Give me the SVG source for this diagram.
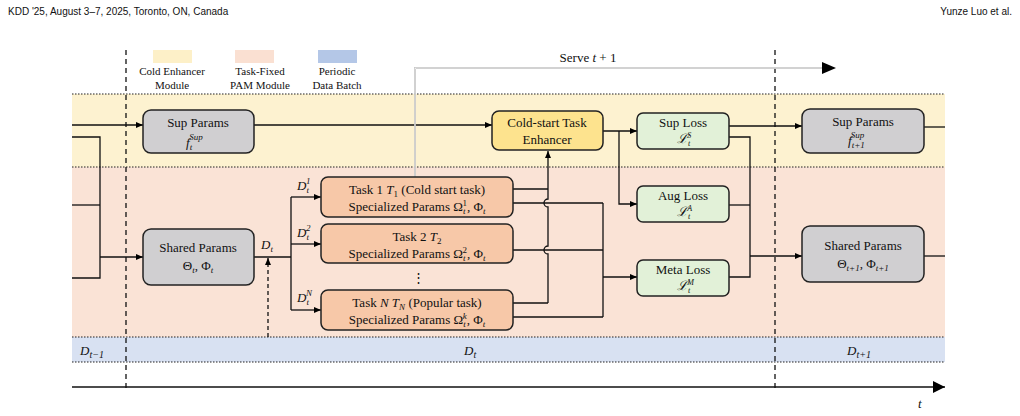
<svg xmlns="http://www.w3.org/2000/svg" width="1020" height="416" viewBox="0 0 1020 416">
<defs>
<marker id="ar" markerWidth="8" markerHeight="8" refX="7" refY="4" orient="auto" markerUnits="userSpaceOnUse"><path d="M0,1 L7,4 L0,7 z" fill="#000"/></marker>
<marker id="big" markerWidth="14" markerHeight="14" refX="12" refY="7" orient="auto" markerUnits="userSpaceOnUse"><path d="M0,1 L12,7 L0,13 z" fill="#000"/></marker>
</defs>
<style>
text{font-family:"Liberation Serif",serif;font-size:13px;fill:#111}
.m{font-style:italic}
.h{font-family:"Liberation Sans",sans-serif;font-size:10px}
.lg{font-size:11px}
.box{stroke:#222;stroke-width:1.5}
.gray{fill:#d0cfd1}.task{fill:#f7c8a8}.cold{fill:#fde38e}.loss{fill:#e2f1d8}
.ln{fill:none;stroke:#111;stroke-width:1.3}
.dot{stroke:#222;stroke-width:1.2;stroke-dasharray:1.5 1.5}
.dash{stroke:#111;stroke-width:1.3;stroke-dasharray:5 4}
</style>
<text class="h" x="8" y="15">KDD '25, August 3–7, 2025, Toronto, ON, Canada</text>
<text class="h" x="1012" y="15" text-anchor="end">Yunze Luo et al.</text>
<g id="bands">
<rect x="72" y="94" width="873" height="73" fill="#fdf2d0"/>
<rect x="72" y="167" width="873" height="170" fill="#fae3d6"/>
<rect x="72" y="337" width="873" height="25" fill="#d8e1f2"/>
<line class="dot" x1="72" y1="94" x2="945" y2="94"/>
<line class="dot" x1="72" y1="167" x2="945" y2="167"/>
<line class="dot" x1="72" y1="337" x2="945" y2="337"/>
<line class="dot" x1="72" y1="362" x2="945" y2="362"/>
<line class="dash" x1="126" y1="50" x2="126" y2="392"/>
<line class="dash" x1="775" y1="50" x2="775" y2="392"/>
</g>
<g id="legend">
<rect x="153" y="50" width="39" height="13" fill="#fdf0c8"/>
<rect x="235" y="50" width="39" height="13" fill="#fae0d2"/>
<rect x="318" y="50" width="39" height="13" fill="#b4c7e7"/>
<text class="lg" x="172" y="75" text-anchor="middle">Cold Enhancer</text>
<text class="lg" x="172" y="89" text-anchor="middle">Module</text>
<text class="lg" x="260" y="75" text-anchor="middle">Task-Fixed</text>
<text class="lg" x="260" y="89" text-anchor="middle">PAM Module</text>
<text class="lg" x="337" y="75" text-anchor="middle">Periodic</text>
<text class="lg" x="337" y="89" text-anchor="middle">Data Batch</text>
</g>
<g id="connectors">
<line class="ln" x1="72" y1="125" x2="143" y2="125" marker-end="url(#ar)"/>
<polyline class="ln" points="72,137 100,137 100,278 72,278"/>
<line class="ln" x1="72" y1="205" x2="100" y2="205"/>
<line class="ln" x1="100" y1="257" x2="143" y2="257" marker-end="url(#ar)"/>
<line class="ln" x1="254" y1="125" x2="492" y2="125" marker-end="url(#ar)"/>
<line class="ln" x1="254" y1="257" x2="291" y2="257"/>
<line class="ln" x1="268" y1="337" x2="268" y2="258" stroke-dasharray="4 3" marker-end="url(#ar)"/>
<line class="ln" x1="291" y1="197" x2="291" y2="310"/>
<line class="ln" x1="291" y1="197" x2="321" y2="197" marker-end="url(#ar)"/>
<line class="ln" x1="291" y1="244" x2="321" y2="244" marker-end="url(#ar)"/>
<line class="ln" x1="291" y1="310" x2="321" y2="310" marker-end="url(#ar)"/>
<polyline class="ln" points="415,177 415,68 825,68" stroke-width="4"/>
<polyline points="415,177 415,68 825,68" fill="none" stroke="#fff" stroke-width="1.4"/>
<path d="M822,62 L836,68 L822,74 z" fill="#000"/>
<line class="ln" x1="513" y1="189" x2="548" y2="189"/>
<line class="ln" x1="513" y1="303" x2="548" y2="303"/>
<path class="ln" d="M548,303 L548,254 A4,4 0 0 1 548,246 L548,207 A4,4 0 0 1 548,199 L548,151" marker-end="url(#ar)"/>
<line class="ln" x1="513" y1="203" x2="603" y2="203"/>
<line class="ln" x1="513" y1="250" x2="603" y2="250"/>
<line class="ln" x1="513" y1="317" x2="603" y2="317"/>
<line class="ln" x1="603" y1="203" x2="603" y2="317"/>
<line class="ln" x1="603" y1="277" x2="637" y2="277" marker-end="url(#ar)"/>
<line class="ln" x1="603" y1="131" x2="637" y2="131" marker-end="url(#ar)"/>
<polyline class="ln" points="619,131 619,204 637,204" marker-end="url(#ar)"/>
<line class="ln" x1="729" y1="126" x2="802" y2="126" marker-end="url(#ar)"/>
<polyline class="ln" points="729,137 750,137 750,277 729,277"/>
<line class="ln" x1="729" y1="205" x2="750" y2="205"/>
<line class="ln" x1="750" y1="256" x2="802" y2="256" marker-end="url(#ar)"/>
<line class="ln" x1="924" y1="127" x2="945" y2="127"/>
<line class="ln" x1="924" y1="256" x2="945" y2="256"/>
<line class="ln" x1="72" y1="387" x2="945" y2="387" stroke-width="2.5" marker-end="url(#big)"/>
</g>
<text x="588" y="62" text-anchor="middle">Serve <tspan class="m">t</tspan> + 1</text>
<g id="sup_t"><rect class="box gray" x="143" y="110" width="111" height="43" rx="8"/>
<text x="198" y="127" text-anchor="middle">Sup Params</text>
<text class="m" x="186" y="147">f<tspan font-size="9" dy="3">t</tspan><tspan font-size="9" dx="-3" dy="-10">Sup</tspan></text></g>
<g id="shared_t"><rect class="box gray" x="143" y="229" width="111" height="56" rx="8"/>
<text x="198" y="252" text-anchor="middle">Shared Params</text>
<text x="198" y="270" text-anchor="middle">Θ<tspan class="m" font-size="9" dy="3">t</tspan><tspan dy="-3">, Φ</tspan><tspan class="m" font-size="9" dy="3">t</tspan></text></g>
<text class="m" x="261" y="249">D<tspan font-size="9" dy="3">t</tspan></text>
<text class="m" x="297" y="190">D<tspan font-size="9" dy="3">t</tspan><tspan font-size="9" dx="-3" dy="-9">1</tspan></text>
<text class="m" x="297" y="237">D<tspan font-size="9" dy="3">t</tspan><tspan font-size="9" dx="-3" dy="-9">2</tspan></text>
<text class="m" x="297" y="302">D<tspan font-size="9" dy="3">t</tspan><tspan font-size="9" dx="-3" dy="-9">N</tspan></text>
<g id="task1"><rect class="box task" x="321" y="177" width="192" height="40" rx="7"/>
<text x="417" y="194" text-anchor="middle">Task 1 <tspan class="m">T</tspan><tspan font-size="9" dy="3">1</tspan><tspan dy="-3"> (Cold start task)</tspan></text>
<text x="417" y="211" text-anchor="middle">Specialized Params Ω<tspan class="m" font-size="9" dy="3">t</tspan><tspan font-size="9" dx="-3" dy="-8">1</tspan><tspan dy="5">, Φ</tspan><tspan class="m" font-size="9" dy="3">t</tspan></text></g>
<g id="task2"><rect class="box task" x="321" y="224" width="192" height="39" rx="7"/>
<text x="417" y="241" text-anchor="middle">Task 2 <tspan class="m">T</tspan><tspan font-size="9" dy="3">2</tspan></text>
<text x="417" y="258" text-anchor="middle">Specialized Params Ω<tspan class="m" font-size="9" dy="3">t</tspan><tspan font-size="9" dx="-3" dy="-8">2</tspan><tspan dy="5">, Φ</tspan><tspan class="m" font-size="9" dy="3">t</tspan></text></g>
<text x="418" y="282" text-anchor="middle">⋮</text>
<g id="taskN"><rect class="box task" x="321" y="290" width="192" height="40" rx="7"/>
<text x="417" y="307" text-anchor="middle">Task <tspan class="m">N T</tspan><tspan class="m" font-size="9" dy="3">N</tspan><tspan dy="-3"> (Popular task)</tspan></text>
<text x="417" y="324" text-anchor="middle">Specialized Params Ω<tspan class="m" font-size="9" dy="3">t</tspan><tspan class="m" font-size="9" dx="-3" dy="-8">k</tspan><tspan dy="5">, Φ</tspan><tspan class="m" font-size="9" dy="3">t</tspan></text></g>
<g id="cold"><rect class="box cold" x="492" y="111" width="111" height="39" rx="7"/>
<text x="547" y="127" text-anchor="middle">Cold-start Task</text>
<text x="547" y="144" text-anchor="middle">Enhancer</text></g>
<g id="suploss"><rect class="box loss" x="637" y="113" width="92" height="36" rx="6"/>
<text x="683" y="127" text-anchor="middle">Sup Loss</text>
<text class="m" x="677" y="143">ℒ<tspan font-size="8" dy="3">t</tspan><tspan font-size="8" dx="-3" dy="-8">S</tspan></text></g>
<g id="augloss"><rect class="box loss" x="637" y="186" width="92" height="36" rx="6"/>
<text x="683" y="200" text-anchor="middle">Aug Loss</text>
<text class="m" x="677" y="216">ℒ<tspan font-size="8" dy="3">t</tspan><tspan font-size="8" dx="-3" dy="-8">A</tspan></text></g>
<g id="metaloss"><rect class="box loss" x="637" y="260" width="92" height="36" rx="6"/>
<text x="683" y="274" text-anchor="middle">Meta Loss</text>
<text class="m" x="677" y="290">ℒ<tspan font-size="8" dy="3">t</tspan><tspan font-size="8" dx="-3" dy="-8">M</tspan></text></g>
<g id="sup_t1"><rect class="box gray" x="802" y="109" width="122" height="44" rx="8"/>
<text x="863" y="126" text-anchor="middle">Sup Params</text>
<text class="m" x="848" y="145">f<tspan font-size="9" dy="3">t+1</tspan><tspan font-size="9" dx="-14" dy="-10">Sup</tspan></text></g>
<g id="shared_t1"><rect class="box gray" x="802" y="226" width="122" height="56" rx="8"/>
<text x="863" y="250" text-anchor="middle">Shared Params</text>
<text x="863" y="268" text-anchor="middle">Θ<tspan class="m" font-size="9" dy="3">t+1</tspan><tspan dy="-3">, Φ</tspan><tspan class="m" font-size="9" dy="3">t+1</tspan></text></g>
<text class="m" x="80" y="355" font-size="15">D<tspan font-size="10" dy="3">t−1</tspan></text>
<text class="m" x="464" y="355" font-size="15">D<tspan font-size="10" dy="3">t</tspan></text>
<text class="m" x="847" y="355" font-size="15">D<tspan font-size="10" dy="3">t+1</tspan></text>
<text class="m" x="918" y="408" font-size="22">t</text>
</svg>
